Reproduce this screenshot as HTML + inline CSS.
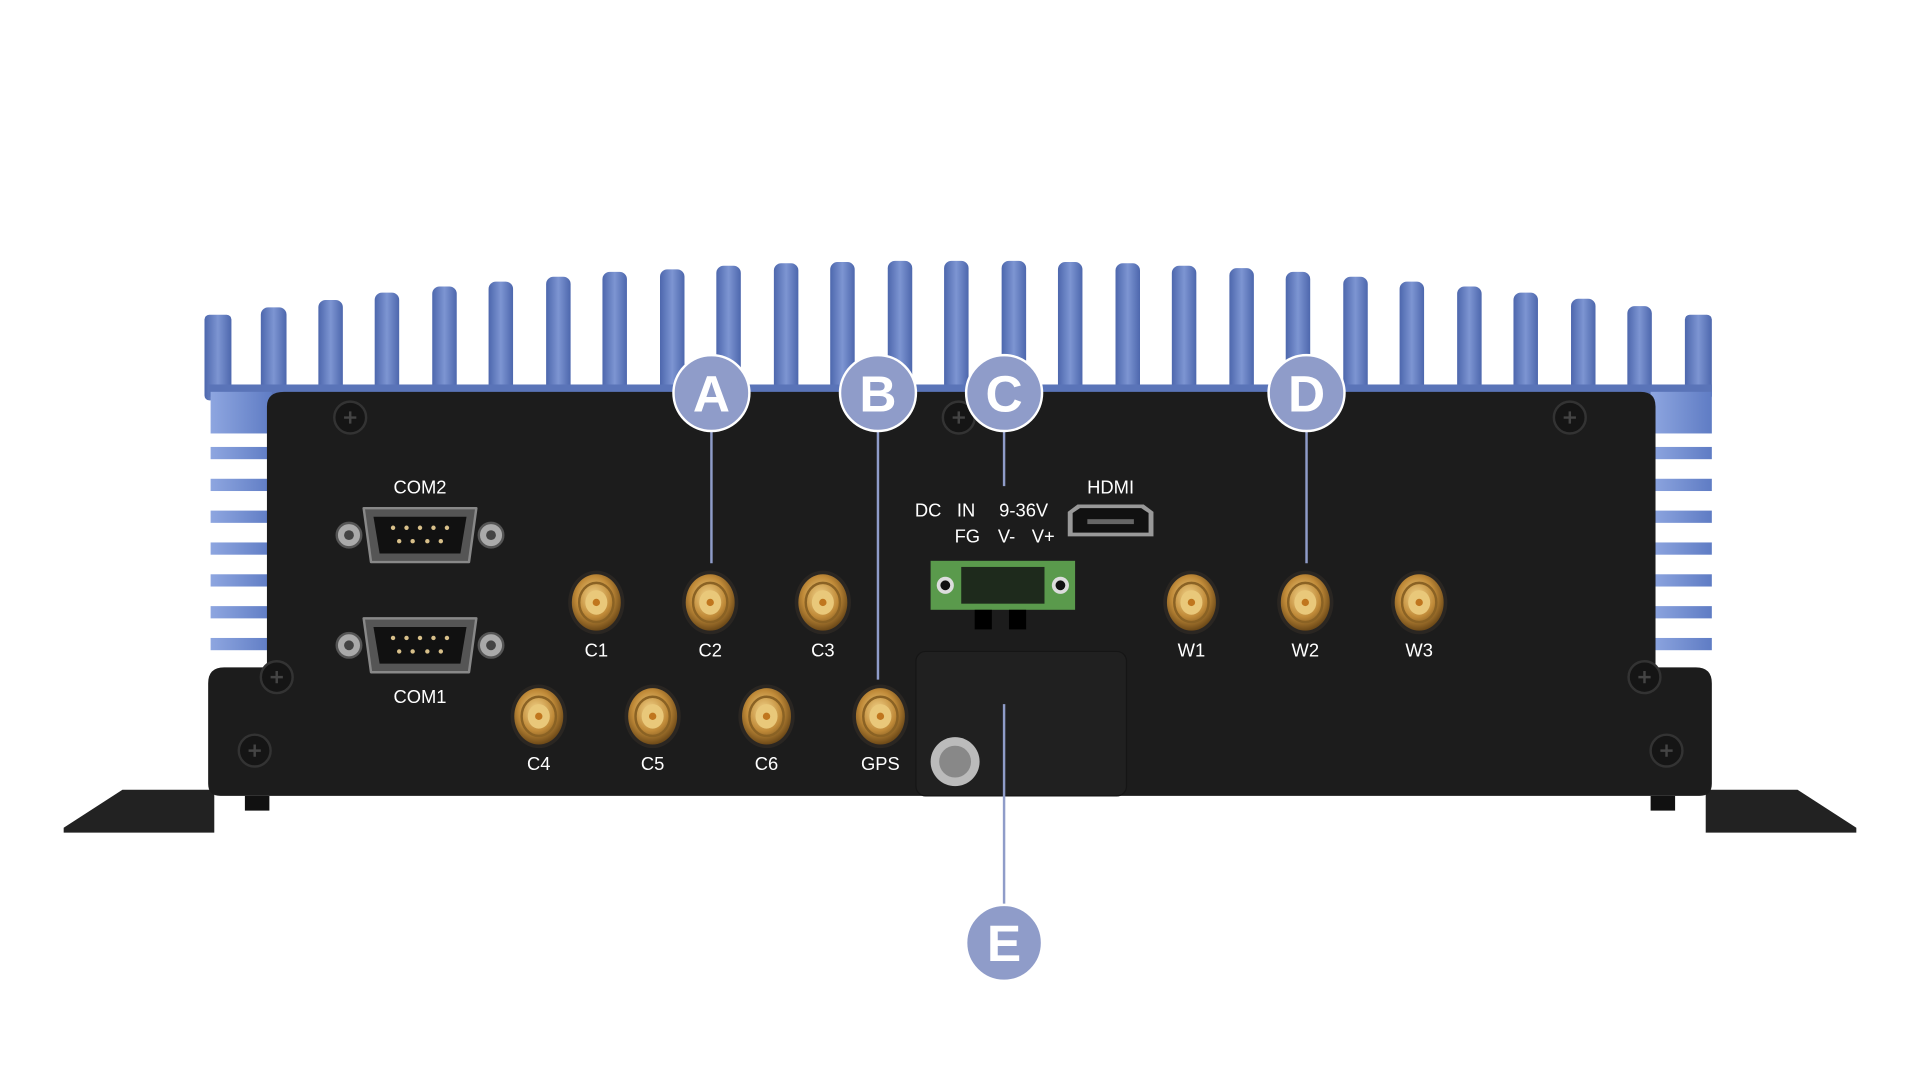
<!DOCTYPE html>
<html><head><meta charset="utf-8"><style>
html,body{margin:0;padding:0;background:#fff;width:1920px;height:1080px;overflow:hidden}
svg{display:block}
text{font-family:"Liberation Sans",sans-serif}
</style></head><body>
<svg width="1920" height="1080" viewBox="0 0 1568 882" preserveAspectRatio="none" xmlns="http://www.w3.org/2000/svg">
<defs>
<linearGradient id="fin" x1="0" y1="0" x2="1" y2="0"><stop offset="0" stop-color="#4d67ad"/><stop offset=".5" stop-color="#7d95d2"/><stop offset="1" stop-color="#4d67ad"/></linearGradient>
<linearGradient id="sfin" x1="0" y1="0" x2="1" y2="0"><stop offset="0" stop-color="#8ea6e0"/><stop offset="1" stop-color="#5f7cc4"/></linearGradient>
<radialGradient id="gold" cx=".45" cy=".4" r=".6"><stop offset="0" stop-color="#f3d48a"/><stop offset=".6" stop-color="#c08a38"/><stop offset="1" stop-color="#6e4a18"/></radialGradient>
<g id="sma"><ellipse rx="23" ry="26" fill="#2a2622"/><ellipse rx="20" ry="23" fill="url(#gold)"/><ellipse rx="14" ry="16" fill="none" stroke="#8a6224" stroke-width="2"/><ellipse rx="9" ry="10" fill="#e9c87a"/><circle r="3" fill="#c0761e"/></g>
<g id="scr"><circle r="13" fill="#151515" stroke="#333" stroke-width="2"/><path d="M-5 0H5M0 -5V5" stroke="#444" stroke-width="2"/></g>
<g id="db9"><circle cx="-58" r="10" fill="#aaa" stroke="#555" stroke-width="2"/><circle cx="-58" r="4" fill="#444"/><circle cx="58" r="10" fill="#aaa" stroke="#555" stroke-width="2"/><circle cx="58" r="4" fill="#444"/>
<path d="M-46 -22 H46 L40 22 H-40Z" fill="#555" stroke="#888" stroke-width="2" stroke-linejoin="round"/>
<path d="M-38 -15 H38 L33 15 H-33Z" fill="#111"/>
<g fill="#d8c08a"><circle cx="-22" cy="-6" r="1.8"/><circle cx="-11" cy="-6" r="1.8"/><circle cx="0" cy="-6" r="1.8"/><circle cx="11" cy="-6" r="1.8"/><circle cx="22" cy="-6" r="1.8"/><circle cx="-17" cy="5" r="1.8"/><circle cx="-6" cy="5" r="1.8"/><circle cx="6" cy="5" r="1.8"/><circle cx="17" cy="5" r="1.8"/></g></g>
</defs>
<rect width="1568" height="882" fill="#fff"/>
<g fill="url(#fin)">
<rect x="167" y="257" width="22" height="70" rx="4"/>
<rect x="213" y="251" width="21" height="76" rx="6"/>
<rect x="260" y="245" width="20" height="82" rx="6"/>
<rect x="306" y="239" width="20" height="88" rx="6"/>
<rect x="353" y="234" width="20" height="93" rx="6"/>
<rect x="399" y="230" width="20" height="97" rx="6"/>
<rect x="446" y="226" width="20" height="101" rx="6"/>
<rect x="492" y="222" width="20" height="105" rx="6"/>
<rect x="539" y="220" width="20" height="107" rx="6"/>
<rect x="585" y="217" width="20" height="110" rx="6"/>
<rect x="632" y="215" width="20" height="112" rx="6"/>
<rect x="678" y="214" width="20" height="113" rx="6"/>
<rect x="725" y="213" width="20" height="114" rx="6"/>
<rect x="771" y="213" width="20" height="114" rx="6"/>
<rect x="818" y="213" width="20" height="114" rx="6"/>
<rect x="864" y="214" width="20" height="113" rx="6"/>
<rect x="911" y="215" width="20" height="112" rx="6"/>
<rect x="957" y="217" width="20" height="110" rx="6"/>
<rect x="1004" y="219" width="20" height="108" rx="6"/>
<rect x="1050" y="222" width="20" height="105" rx="6"/>
<rect x="1097" y="226" width="20" height="101" rx="6"/>
<rect x="1143" y="230" width="20" height="97" rx="6"/>
<rect x="1190" y="234" width="20" height="93" rx="6"/>
<rect x="1236" y="239" width="20" height="88" rx="6"/>
<rect x="1283" y="244" width="20" height="83" rx="6"/>
<rect x="1329" y="250" width="20" height="77" rx="6"/>
<rect x="1376" y="257" width="22" height="70" rx="4"/>
</g>
<rect x="170" y="314" width="1228" height="10" fill="#5a74b8"/>
<g fill="url(#sfin)">
<rect x="172" y="320" width="50" height="34"/>
<rect x="1348" y="320" width="50" height="34"/>
<rect x="172" y="365" width="50" height="10"/><rect x="172" y="391" width="50" height="10"/><rect x="172" y="417" width="50" height="10"/><rect x="172" y="443" width="50" height="10"/><rect x="172" y="469" width="50" height="10"/><rect x="172" y="495" width="50" height="10"/><rect x="172" y="521" width="50" height="10"/>
<rect x="1348" y="365" width="50" height="10"/><rect x="1348" y="391" width="50" height="10"/><rect x="1348" y="417" width="50" height="10"/><rect x="1348" y="443" width="50" height="10"/><rect x="1348" y="469" width="50" height="10"/><rect x="1348" y="495" width="50" height="10"/><rect x="1348" y="521" width="50" height="10"/>
</g>
<!-- feet -->
<path d="M52 676 L100 645 H175 V680 H52Z" fill="#222"/>
<path d="M1516 676 L1468 645 H1393 V680 H1516Z" fill="#222"/>
<!-- chassis -->
<path d="M232 320 H1340 Q1352 320 1352 332 V545 H1385 Q1398 545 1398 558 V640 Q1398 650 1388 650 H180 Q170 650 170 640 V558 Q170 545 183 545 H218 V332 Q218 320 232 320Z" fill="#1c1c1c"/>
<rect x="200" y="650" width="20" height="12" fill="#111"/><rect x="1348" y="650" width="20" height="12" fill="#111"/>
<use href="#scr" x="286" y="341"/><use href="#scr" x="783" y="341"/><use href="#scr" x="1282" y="341"/>
<use href="#scr" x="226" y="553"/><use href="#scr" x="208" y="613"/><use href="#scr" x="1343" y="553"/><use href="#scr" x="1361" y="613"/>
<g fill="#fff" font-size="15" text-anchor="middle">
<text x="343" y="403">COM2</text><text x="343" y="574">COM1</text>
<text x="487" y="536">C1</text><text x="580" y="536">C2</text><text x="672" y="536">C3</text>
<text x="440" y="629">C4</text><text x="533" y="629">C5</text><text x="626" y="629">C6</text><text x="719" y="629">GPS</text>
<text x="973" y="536">W1</text><text x="1066" y="536">W2</text><text x="1159" y="536">W3</text>
<text x="907" y="403">HDMI</text>
<text x="758" y="422">DC</text><text x="789" y="422">IN</text><text x="836" y="422">9-36V</text>
<text x="790" y="443">FG</text><text x="822" y="443">V-</text><text x="852" y="443">V+</text>
</g>
<use href="#db9" x="343" y="437"/>
<use href="#db9" x="343" y="527"/>
<use href="#sma" x="487" y="492"/><use href="#sma" x="580" y="492"/><use href="#sma" x="672" y="492"/>
<use href="#sma" x="440" y="585"/><use href="#sma" x="533" y="585"/><use href="#sma" x="626" y="585"/><use href="#sma" x="719" y="585"/>
<use href="#sma" x="973" y="492"/><use href="#sma" x="1066" y="492"/><use href="#sma" x="1159" y="492"/>
<!-- HDMI -->
<path d="M872 418 L880 412 H934 L942 418 V438 H872Z" fill="#999"/><path d="M876 419 L882 415 H932 L938 419 V435 H876Z" fill="#111"/>
<rect x="888" y="424" width="38" height="4" fill="#666"/>
<!-- terminal -->
<rect x="760" y="458" width="118" height="40" fill="#5a9a4c"/>
<rect x="785" y="463" width="68" height="30" fill="#1e2a1c"/>
<circle cx="772" cy="478" r="7" fill="#ddd"/><circle cx="772" cy="478" r="4" fill="#111"/>
<circle cx="866" cy="478" r="7" fill="#ddd"/><circle cx="866" cy="478" r="4" fill="#111"/>
<rect x="796" y="498" width="14" height="16" fill="#000"/><rect x="824" y="498" width="14" height="16" fill="#000"/>
<!-- cover -->
<rect x="748" y="532" width="172" height="118" rx="8" fill="#202020" stroke="#151515"/>
<circle cx="780" cy="622" r="20" fill="#bbb"/><circle cx="780" cy="622" r="13" fill="#888"/>
<!-- callouts -->
<g stroke="#8f9cc9" stroke-width="2">
<line x1="581" y1="340" x2="581" y2="460"/><line x1="717" y1="340" x2="717" y2="555"/>
<line x1="820" y1="340" x2="820" y2="397"/><line x1="1067" y1="340" x2="1067" y2="460"/>
<line x1="820" y1="575" x2="820" y2="750"/>
</g>
<g fill="#8f9cc9" stroke="#fff" stroke-width="2">
<circle cx="581" cy="321" r="31"/><circle cx="717" cy="321" r="31"/><circle cx="820" cy="321" r="31"/><circle cx="1067" cy="321" r="31"/><circle cx="820" cy="770" r="31"/>
</g>
<g fill="#fff" font-size="42" font-weight="bold" text-anchor="middle">
<text x="581" y="336">A</text><text x="717" y="336">B</text><text x="820" y="336">C</text><text x="1067" y="336">D</text><text x="820" y="785">E</text>
</g>
</svg>
</body></html>
